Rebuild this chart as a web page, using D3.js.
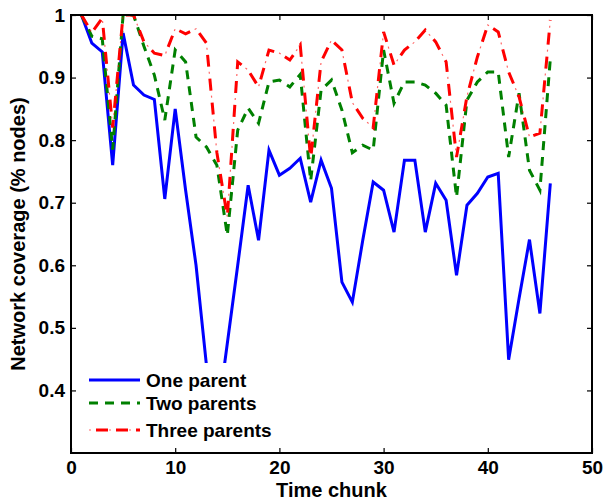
<!DOCTYPE html>
<html>
<head>
<meta charset="utf-8">
<script src="https://cdn.jsdelivr.net/npm/d3@7"></script>
<style>
    body { margin: 0; background: #fff; }
    svg text { font-family: "Liberation Sans", Arial, sans-serif; font-weight: bold; fill: #000; }
</style>
</head>
<body>
<div id="chart"></div>
<script>
// Time chunks on the x axis
const timeChunks = d3.range(1, 47);

// Network coverage per time chunk
const oneParent = [
    1.0, 0.955, 0.941, 0.76, 0.971, 0.888, 0.872, 0.865, 0.706, 0.85,
    0.72, 0.60, 0.44, 0.35, 0.475, 0.60, 0.728, 0.64, 0.784, 0.744,
    0.755, 0.771, 0.701, 0.768, 0.723, 0.573, 0.541, 0.64, 0.733, 0.72,
    0.653, 0.768, 0.768, 0.653, 0.731, 0.704, 0.584, 0.696, 0.715, 0.741,
    0.747, 0.449, 0.547, 0.641, 0.523, 0.731
];
const twoParents = [
    1.0, 0.966, 0.962, 0.785, 1.0, 1.0, 0.95, 0.904, 0.832, 0.944,
    0.925, 0.805, 0.789, 0.76, 0.648, 0.816, 0.851, 0.827, 0.893, 0.896,
    0.885, 0.905, 0.735, 0.88, 0.896, 0.848, 0.78, 0.792, 0.784, 0.944,
    0.859, 0.893, 0.893, 0.888, 0.875, 0.856, 0.709, 0.864, 0.893, 0.909,
    0.909, 0.773, 0.875, 0.752, 0.72, 0.93
];
const threeParents = [
    1.0, 0.972, 0.995, 0.82, 1.0, 1.0, 0.957, 0.939, 0.935, 0.978,
    0.97, 0.978, 0.955, 0.78, 0.677, 0.925, 0.912, 0.885, 0.944, 0.939,
    0.928, 0.952, 0.77, 0.925, 0.96, 0.944, 0.86, 0.835, 0.82, 0.973,
    0.92, 0.944, 0.957, 0.976, 0.957, 0.925, 0.773, 0.87, 0.933, 0.984,
    0.973, 0.909, 0.869, 0.805, 0.811, 0.992
];

const seriesNames = ["One parent", "Two parents", "Three parents"];
const xTicks = [0, 10, 20, 30, 40, 50];
const yTicks = [0.4, 0.5, 0.6, 0.7, 0.8, 0.9, 1];

// Chart dimensions
const totalWidth = 605, totalHeight = 501;
const margin = { top: 15, right: 13, bottom: 48, left: 71 };
const width = totalWidth - margin.left - margin.right;
const height = totalHeight - margin.top - margin.bottom;

const svg = d3.select("#chart")
    .append("svg")
    .attr("width", totalWidth)
    .attr("height", totalHeight);

const g = svg.append("g")
    .attr("transform", `translate(${margin.left},${margin.top})`);

// Scales
const x = d3.scaleLinear().domain([0, 50]).range([0, width]);
const y = d3.scaleLinear().domain([0.3, 1]).range([height, 0]);

g.append("clipPath").attr("id", "plot-clip")
    .append("rect").attr("width", width).attr("height", height);

// Series styles (MATLAB-like)
const styles = [
    { data: oneParent, color: "#0000ff", dash: null },
    { data: twoParents, color: "#008000", dash: "9,7" },
    { data: threeParents, color: "#ff0000", dash: "12,12", dot: true }
];

const line = d3.line()
    .x((d, i) => x(timeChunks[i]))
    .y(d => y(d));

const plot = g.append("g").attr("clip-path", "url(#plot-clip)");

styles.forEach(s => {
    plot.append("path")
        .datum(s.data)
        .attr("fill", "none")
        .attr("stroke", s.color)
        .attr("stroke-width", 3)
        .attr("stroke-dasharray", s.dash)
        .attr("d", line);
    if (s.dot) {
        plot.append("path")
            .datum(s.data)
            .attr("fill", "none")
            .attr("stroke", s.color)
            .attr("stroke-opacity", 0.6)
            .attr("stroke-width", 1.2)
            .attr("stroke-dasharray", "2,22")
            .attr("stroke-dashoffset", 7)
            .attr("d", line);
    }
});

// Axes, ticks pointing inward
const xAxis = g.append("g")
    .attr("transform", `translate(0,${height})`)
    .call(d3.axisBottom(x).tickValues(xTicks).tickSizeInner(-5).tickSizeOuter(0).tickPadding(8));

const yAxis = g.append("g")
    .call(d3.axisLeft(y).tickValues(yTicks).tickSizeInner(-5).tickSizeOuter(0).tickPadding(6)
        .tickFormat(d => d === 1 ? "1" : d.toFixed(1)));

g.append("g")
    .call(d3.axisTop(x).tickValues(xTicks).tickSizeInner(-5).tickSizeOuter(0).tickFormat(""));

g.append("g")
    .attr("transform", `translate(${width},0)`)
    .call(d3.axisRight(y).tickValues(yTicks).tickSizeInner(-5).tickSizeOuter(0).tickFormat(""));

g.selectAll(".domain").remove();
g.selectAll(".tick line").attr("stroke", "#000").attr("stroke-width", 1.2);
g.selectAll(".tick text").style("font-size", "19px").attr("fill", "#000");

// Box
g.append("rect")
    .attr("width", width)
    .attr("height", height)
    .attr("fill", "none")
    .attr("stroke", "#000")
    .attr("stroke-width", 2);

// Axis labels
svg.append("text")
    .attr("x", margin.left + width / 2)
    .attr("y", 497)
    .attr("text-anchor", "middle")
    .style("font-size", "20px")
    .text("Time chunk");

svg.append("text")
    .attr("transform", `translate(25,${margin.top + height / 2}) rotate(-90)`)
    .attr("text-anchor", "middle")
    .style("font-size", "20px")
    .text("Network coverage (% nodes)");

// Legend
const legend = svg.append("g").attr("transform", "translate(80,363)");
legend.append("rect")
    .attr("width", 205)
    .attr("height", 82)
    .attr("fill", "#fff");

const legendY = [17, 40, 67];
styles.forEach((s, i) => {
    const row = legend.append("g").attr("transform", `translate(0,${legendY[i]})`);
    row.append("line")
        .attr("x1", 9).attr("x2", 60)
        .attr("stroke", s.color)
        .attr("stroke-width", 3)
        .attr("stroke-dasharray", s.dot ? "12,8" : s.dash)
        .attr("stroke-dashoffset", s.dot ? -7 : (s.dash ? 0 : null));
    if (s.dot) {
        row.append("line")
            .attr("x1", 9).attr("x2", 60)
            .attr("stroke", s.color)
            .attr("stroke-opacity", 0.6)
            .attr("stroke-width", 1.2)
            .attr("stroke-dasharray", "2,18")
            .attr("stroke-dashoffset", 0);
    }
    row.append("text")
        .attr("x", 66)
        .attr("dy", "0.35em")
        .style("font-size", "19px")
        .text(seriesNames[i]);
});
</script>
</body>
</html>
